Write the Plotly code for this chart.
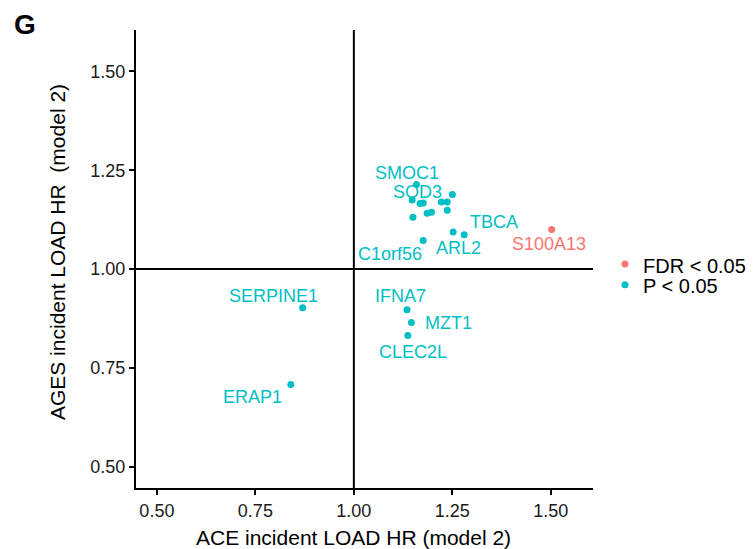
import plotly.graph_objects as go

# Hazard ratios for incident LOAD (model 2): ACE cohort (x) vs AGES cohort (y)
genes = [
    "SMOC1", "", "SOD3", "", "", "", "", "", "", "", "",
    "ARL2", "TBCA", "C1orf56",
    "S100A13",
    "SERPINE1", "ERAP1", "IFNA7", "MZT1", "CLEC2L",
]
ace_hr = [
    1.159, 1.250, 1.148, 1.168, 1.176, 1.222, 1.237, 1.237, 1.186, 1.197, 1.150,
    1.252, 1.280, 1.176,
    1.502,
    0.870, 0.840, 1.135, 1.146, 1.137,
]
ages_hr = [
    1.214, 1.189, 1.175, 1.166, 1.167, 1.170, 1.170, 1.149, 1.141, 1.144, 1.131,
    1.094, 1.087, 1.072,
    1.100,
    0.902, 0.708, 0.897, 0.865, 0.832,
]
significance = [
    "P < 0.05", "P < 0.05", "P < 0.05", "P < 0.05", "P < 0.05", "P < 0.05",
    "P < 0.05", "P < 0.05", "P < 0.05", "P < 0.05", "P < 0.05",
    "P < 0.05", "P < 0.05", "P < 0.05",
    "FDR < 0.05",
    "P < 0.05", "P < 0.05", "P < 0.05", "P < 0.05", "P < 0.05",
]
group_order = ["FDR < 0.05", "P < 0.05"]
tick_vals = [0.50, 0.75, 1.00, 1.25, 1.50]
tick_text = ["0.50", "0.75", "1.00", "1.25", "1.50"]

# Styling
colors = {"FDR < 0.05": "#F8766D", "P < 0.05": "#00BFC4"}
# pixel offsets of each gene label from its point (repelled labels)
label_offsets = {
    "SMOC1": (-10, -12), "SOD3": (5, -8), "TBCA": (30, -13), "ARL2": (5, 16),
    "C1orf56": (-33, 13), "S100A13": (-3, 14), "SERPINE1": (-29, -12),
    "ERAP1": (-38, 13), "IFNA7": (-7, -14), "MZT1": (37, 1), "CLEC2L": (5, 17),
}
FONT = "Liberation Sans, Arial, Helvetica, sans-serif"

fig = go.Figure()
for grp in group_order:
    idx = [i for i, s in enumerate(significance) if s == grp]
    fig.add_trace(go.Scatter(
        x=[ace_hr[i] for i in idx],
        y=[ages_hr[i] for i in idx],
        mode="markers",
        name=grp,
        marker=dict(color=colors[grp], size=7, line=dict(width=0)),
        hoverinfo="skip",
        showlegend=False,
    ))

for g, x, y, s in zip(genes, ace_hr, ages_hr, significance):
    if not g:
        continue
    dx, dy = label_offsets[g]
    fig.add_annotation(
        x=x, y=y, xref="x", yref="y", text=g,
        showarrow=True, arrowcolor="rgba(0,0,0,0)", arrowwidth=0.1,
        ax=dx, ay=dy, xanchor="center", yanchor="middle",
        font=dict(family=FONT, size=18, color=colors[s]),
    )

# reference lines at HR = 1
fig.add_shape(type="line", xref="x", yref="paper", x0=1, x1=1, y0=0, y1=1,
              line=dict(color="black", width=2))
fig.add_shape(type="line", xref="paper", yref="y", x0=0, x1=1, y0=1, y1=1,
              line=dict(color="black", width=2))

# compact key for the significance groups, placed right of the panel
key_x, key_y, key_step = 1.070, 0.489, 0.045
for k, grp in enumerate(group_order):
    yk = key_y - k * key_step
    fig.add_shape(type="circle", xref="paper", yref="paper",
                  xsizemode="pixel", ysizemode="pixel",
                  xanchor=key_x, yanchor=yk, x0=-3.5, x1=3.5, y0=-3.5, y1=3.5,
                  fillcolor=colors[grp], line=dict(width=0))
    fig.add_annotation(xref="paper", yref="paper", x=key_x + 0.035, y=yk - 0.004,
                       text=grp, showarrow=False, xanchor="left", yanchor="middle",
                       font=dict(family=FONT, size=20, color="black"))

# axis titles
fig.add_annotation(xref="paper", yref="paper", x=0.477, y=-0.107,
                   text="ACE incident LOAD HR (model 2)", showarrow=False,
                   xanchor="center", yanchor="middle",
                   font=dict(family=FONT, size=21, color="black"))
fig.add_annotation(xref="paper", yref="paper", x=-0.173, y=0.515,
                   text="AGES incident LOAD HR\u00a0 (model 2)", showarrow=False,
                   textangle=-90, xanchor="center", yanchor="middle",
                   font=dict(family=FONT, size=21, color="black"))

# panel letter
fig.add_annotation(xref="paper", yref="paper", x=-0.243, y=1.013, text="<b>G</b>",
                   showarrow=False, xanchor="center", yanchor="middle",
                   font=dict(family=FONT, size=28, color="black"))

axis_common = dict(
    tickvals=tick_vals, ticktext=tick_text,
    ticks="outside", ticklen=5, tickwidth=2, tickcolor="black",
    showline=True, linecolor="black", linewidth=2,
    showgrid=False, zeroline=False,
    tickfont=dict(family=FONT, size=18, color="#1a1a1a"),
)
fig.update_xaxes(range=[0.447, 1.607], **axis_common)
fig.update_yaxes(range=[0.446, 1.605], **axis_common)

fig.update_layout(
    width=756, height=549,
    margin=dict(l=136, r=163, t=30, b=61),
    plot_bgcolor="white", paper_bgcolor="white",
    showlegend=False,
)

fig.write_html("out.html")
